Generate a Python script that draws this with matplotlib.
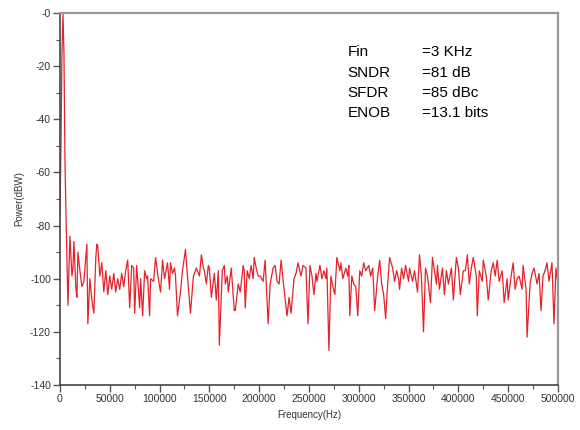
import matplotlib
matplotlib.use("Agg")
import matplotlib.pyplot as plt
from matplotlib.ticker import MultipleLocator

plt.rcParams['font.family'] = ['Liberation Sans', 'DejaVu Sans']

# tone around Fin = 3 kHz (kHz, dBW)
tone_khz = [0, 1, 2, 3, 4, 5, 6]
tone_db = [-76, -50, -15, 0, -15, -55, -75]

# noise floor (kHz, dBW)
noise_khz = [8, 10, 12, 13, 14, 16, 17, 18, 20, 22, 24, 27, 28, 30, 32, 34, 36, 37, 38, 40,
             42, 44, 46, 48, 50, 52, 54, 56, 58, 60, 62, 64, 66, 68, 70,
             72, 74, 75, 77, 80, 81, 83, 85, 87, 88, 90, 91, 94, 96, 98, 100, 101, 103, 105,
             108, 110, 111, 113, 115, 116, 118, 121, 123, 126, 128, 131, 134, 137, 140, 142,
             144, 145, 147, 149, 150, 152, 155, 157, 159, 160, 163, 165, 166, 168, 169, 172,
             175, 176, 179, 181, 184, 185, 186, 188, 190, 192, 194, 195, 197, 199, 201, 204,
             206, 209, 211, 214, 216,
             218, 220, 222, 225, 228, 230, 232, 235, 237, 239, 242, 244, 247, 249, 251, 253,
             255, 257, 258, 261, 263, 265, 267, 268, 270, 272, 274, 276, 278, 281, 282, 284,
             287, 289,
             290, 291, 293, 295, 297, 299, 301, 303, 305, 307, 310, 312, 314, 316, 319, 321,
             323, 325, 327, 329, 331, 334, 336, 338, 340, 341, 343, 345, 347, 350, 351, 354,
             356, 359, 361, 363,
             365, 367, 369, 372, 374, 378, 379, 381, 384, 386, 388, 390, 393, 395, 398, 400,
             402, 405, 407, 409, 411, 413, 415, 418, 419, 421, 424, 425, 428, 430, 433, 435,
             437,
             439, 441, 444, 446, 449, 450, 453, 455, 457, 459, 461, 464, 465, 468, 469, 472,
             474, 476, 479, 481, 483, 485, 487, 489, 491, 494, 496, 498, 500]
noise_db = [-110, -84, -99, -96, -86, -104, -107, -90, -97, -103, -101, -87, -117, -100, -108,
            -113, -92, -87, -88, -99,
            -94, -105, -97, -106, -99, -104, -98, -105, -100, -104, -98, -103, -97, -93, -111,
            -95, -96, -113, -95, -111, -100, -114, -97, -100, -99, -114, -100, -101, -92, -98,
            -103, -105, -93, -100,
            -94, -104, -94, -98, -96, -99, -114, -105, -97, -89, -99, -113, -99, -96, -99, -91,
            -96, -97, -102, -95, -96, -107, -98, -108, -97, -125, -97, -95, -102, -99, -105,
            -96,
            -112, -112, -102, -105, -95, -97, -111, -97, -100, -95, -100, -92, -96, -99, -99,
            -101,
            -93, -117, -102, -96, -95,
            -101, -102, -93, -104, -114, -107, -113, -100, -98, -94, -99, -95, -96, -117, -95,
            -99,
            -106, -98, -101, -95, -100, -97, -100, -96, -127, -99, -103, -106, -92, -97, -94,
            -100,
            -96, -99,
            -95, -114, -99, -102, -103, -114, -97, -99, -94, -97, -95, -99, -96, -112, -99, -93,
            -102, -106, -115, -102, -92, -96, -101, -97, -100, -104, -96, -100, -95, -101, -96,
            -101,
            -97, -105, -91, -100,
            -120, -96, -99, -109, -92, -102, -95, -104, -96, -106, -97, -102, -96, -108, -92,
            -96,
            -106, -97, -97, -91, -102, -96, -92, -99, -114, -97, -101, -93, -99, -108, -97, -94,
            -99,
            -93, -101, -97, -109, -100, -108, -99, -94, -104, -100, -99, -104, -95, -104, -122,
            -102,
            -98, -96, -102, -98, -112, -99, -97, -94, -101, -94, -117, -96, -102]

freq_hz = [k * 1000 for k in tone_khz + noise_khz]
power_db = tone_db + noise_db

x_ticks = list(range(0, 500001, 50000))
y_ticks = list(range(-140, 1, 20))
y_tick_labels = [str(v) if v != 0 else '-0' for v in y_ticks]

info_names = ['Fin', 'SNDR', 'SFDR', 'ENOB']
info_values = ['=3 KHz', '=81 dB', '=85 dBc', '=13.1 bits']

fig = plt.figure(figsize=(5.8, 4.3), dpi=100)
ax = fig.add_axes([0.1034, 0.1047, 0.8586, 0.8651])
ax.plot(freq_hz, power_db, color='#e5222b', linewidth=0.9)

ax.set_xlim(0, 500000)
ax.set_ylim(-140, 0)
ax.set_xticks(x_ticks)
ax.set_xticklabels([str(v) for v in x_ticks])
ax.set_yticks(y_ticks)
ax.set_yticklabels(y_tick_labels)
ax.xaxis.set_minor_locator(MultipleLocator(25000))
ax.yaxis.set_minor_locator(MultipleLocator(10))
ax.tick_params(which='major', direction='out', length=5, width=1, color='#555555',
               labelsize=7.5, labelcolor='#333333', pad=1.5)
ax.tick_params(which='minor', direction='out', length=3, width=0.8, color='#555555')
ax.tick_params(top=False, right=False, which='both')

for side in ['left', 'bottom']:
    ax.spines[side].set_color('#444444')
    ax.spines[side].set_linewidth(1.2)
for side in ['top', 'right']:
    ax.spines[side].set_color('#999999')
    ax.spines[side].set_linewidth(1.6)

ax.set_xlabel('Frequency(Hz)', fontsize=7, color='#333333', labelpad=4)
ax.set_ylabel('Power(dBW)', fontsize=7, color='#333333', labelpad=4)

rows = [0.895, 0.839, 0.785, 0.731]
for name, val, yy in zip(info_names, info_values, rows):
    ax.text(0.578, yy, name, transform=ax.transAxes, fontsize=11, va='center', ha='left')
    ax.text(0.727, yy, val, transform=ax.transAxes, fontsize=11, va='center', ha='left')

fig.savefig('out.png', dpi=100)
